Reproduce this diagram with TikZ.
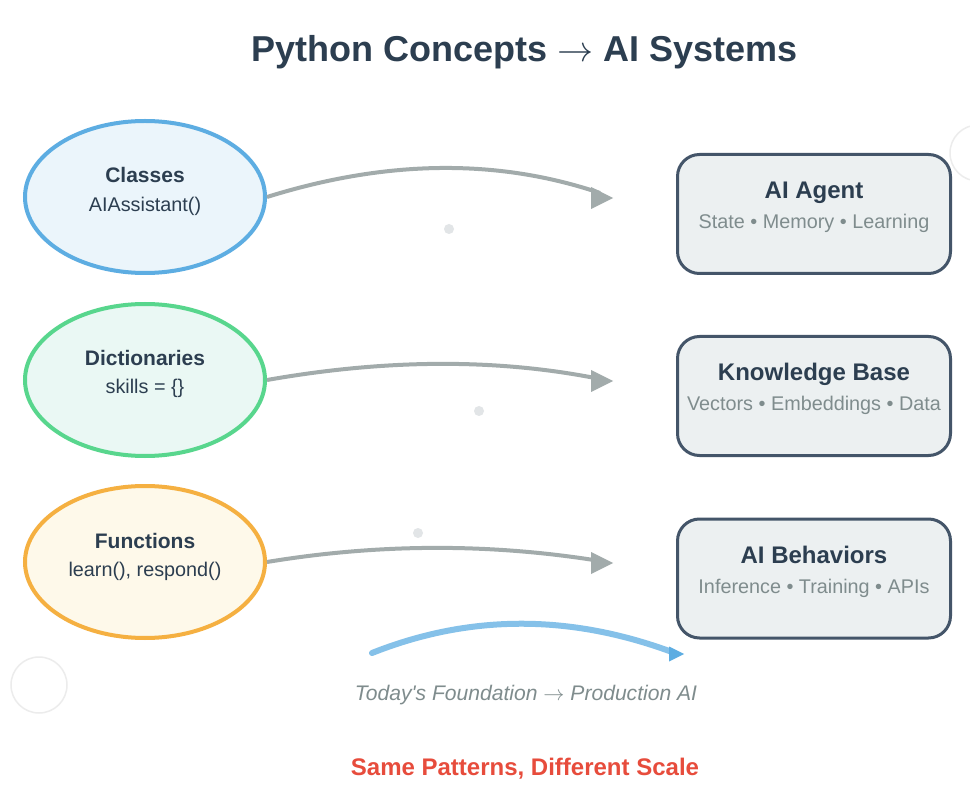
\RequirePackage{fix-cm}
\documentclass[tikz,border=0pt]{standalone}
\usepackage{fontspec}
\setmainfont{Liberation Sans}
\usetikzlibrary{shapes.geometric}
\definecolor{ink}{HTML}{2C3E50}
\definecolor{boxline}{HTML}{445569}
\definecolor{boxfill}{HTML}{ECF0F1}
\definecolor{subgray}{HTML}{7F8C8D}
\definecolor{arrowgray}{HTML}{A2ABAB}
\definecolor{dotgray}{HTML}{E2E5E7}
\definecolor{ringgray}{HTML}{ECECEC}
\definecolor{blueline}{HTML}{5DADE2}
\definecolor{bluefill}{HTML}{EBF5FB}
\definecolor{greenline}{HTML}{58D68D}
\definecolor{greenfill}{HTML}{EAF8F4}
\definecolor{orangeline}{HTML}{F5B041}
\definecolor{orangefill}{HTML}{FEF9EA}
\definecolor{softblue}{HTML}{85C1E9}
\definecolor{redtext}{HTML}{E74C3C}
\tikzset{
  concept/.style={ellipse, draw, line width=4pt, minimum width=240pt, minimum height=152pt, inner sep=0pt},
  aibox/.style={draw=boxline, fill=boxfill, line width=3pt, rounded corners=22pt, minimum width=273pt, minimum height=119pt, inner sep=0pt},
  ctitle/.style={anchor=base, text=ink, font=\fontsize{21}{24}\selectfont\bfseries},
  ccode/.style={anchor=base, text=ink, font=\fontsize{19.8}{24}\selectfont},
  btitle/.style={anchor=base, text=ink, font=\fontsize{24}{28}\selectfont\bfseries},
  bsub/.style={anchor=base, text=subgray, font=\fontsize{19.8}{24}\selectfont},
  flow/.style={draw=arrowgray, line width=4pt},
  grayhead/.style={fill=arrowgray},
  dot/.style={fill=dotgray},
  ring/.style={draw=ringgray, line width=1.5pt},
}
\begin{document}
\begin{tikzpicture}[x=1pt,y=-1pt]
\useasboundingbox (0,0) rectangle (970,802);
\fill[white] (0,0) rectangle (970,802);

% decorative rings
\draw[ring] (978,153) circle (28);
\draw[ring] (39,685) circle (28);

% title
\node[anchor=base, text=ink, font=\fontsize{36}{40}\selectfont\bfseries] (title) at (525,62) {Python Concepts $\rightarrow$ AI Systems};

% concepts
\node[concept, draw=blueline, fill=bluefill] (cls) at (145,197) {};
\node[ctitle] (clsT) at (145,183) {Classes};
\node[ccode] (clsC) at (145,212) {AIAssistant()};

\node[concept, draw=greenline, fill=greenfill] (dic) at (145,380) {};
\node[ctitle] (dicT) at (145,366) {Dictionaries};
\node[ccode] (dicC) at (145,394) {skills = \{\}};

\node[concept, draw=orangeline, fill=orangefill] (fun) at (145,562) {};
\node[ctitle] (funT) at (145,548) {Functions};
\node[ccode] (funC) at (145,576) {learn(), respond()};

% boxes
\node[aibox] (agent) at (814,214) {};
\node[btitle] (agentT) at (814,199) {AI Agent};
\node[bsub] (agentS) at (814,229) {State • Memory • Learning};

\node[aibox] (kb) at (814,396) {};
\node[btitle] (kbT) at (814,381) {Knowledge Base};
\node[bsub] (kbS) at (814,411) {Vectors • Embeddings • Data};

\node[aibox] (beh) at (814,578.5) {};
\node[btitle] (behT) at (814,563.5) {AI Behaviors};
\node[bsub] (behS) at (814,593.5) {Inference • Training • APIs};

% dots
\fill[dot] (449,229) circle (5);
\fill[dot] (479,411) circle (5);
\fill[dot] (418,533) circle (5);

% connectors
\coordinate (t1) at (613,198);
\coordinate (e1) at (600,193);
\draw[flow] (cls.east) .. controls (386.3,159.7) and (497.3,158.3) .. (e1);
\fill[grayhead] (t1) -- ++(-22,-11) -- ++(0,22) -- cycle;

\coordinate (t2) at (613,381);
\coordinate (e2) at (600,379);
\draw[flow] (dic.east) .. controls (386.3,359) and (497.3,358.3) .. (e2);
\fill[grayhead] (t2) -- ++(-22,-11) -- ++(0,22) -- cycle;

\coordinate (t3) at (613,563);
\coordinate (e3) at (600,561);
\draw[flow] (fun.east) .. controls (377.7,543.7) and (488.7,543) .. (e3);
\fill[grayhead] (t3) -- ++(-22,-11) -- ++(0,22) -- cycle;

% bottom arrow
\coordinate (bs) at (372,653);
\coordinate (be) at (672,652);
\coordinate (bt) at (684,654);
\draw[draw=softblue, line width=6pt, line cap=round] (bs) .. controls (469.3,614.3) and (569.3,614) .. (be);
\fill[blueline] (bt) -- ++(-15,-7.5) -- ++(0,15) -- cycle;

\node[anchor=base, text=subgray, font=\fontsize{21.1}{24}\selectfont\itshape\addfontfeatures{Ligatures=TeXOff}] (found) at (526,700) {Today's Foundation $\rightarrow$ Production AI};

\node[anchor=base, text=redtext, font=\fontsize{24}{28}\selectfont\bfseries] (scale) at (525,775) {Same Patterns, Different Scale};
\end{tikzpicture}
\end{document}
